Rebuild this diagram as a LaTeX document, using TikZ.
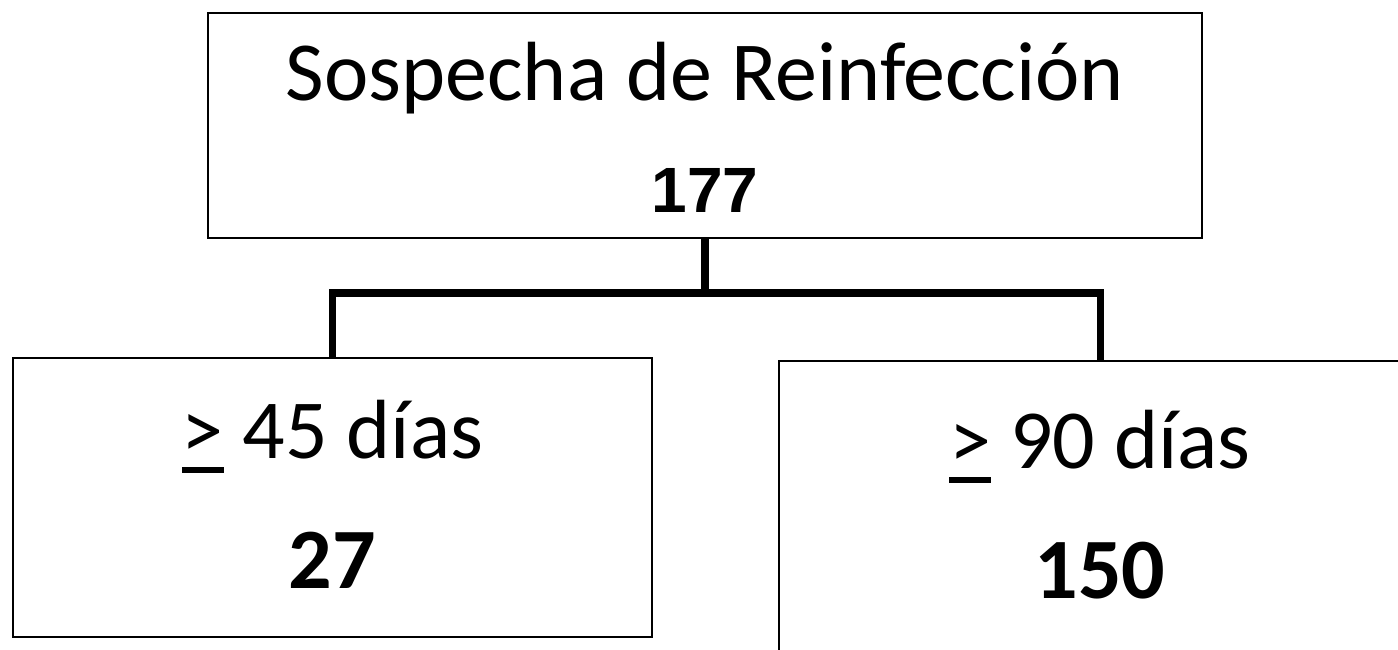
\documentclass[tikz,border=0pt]{standalone}
\usepackage{fontspec}
\setmainfont{Carlito}
\newfontfamily\arialf{Liberation Sans}
\newsavebox\gtbox
\newcommand\ugt{\sbox\gtbox{>}\rlap{\rule[-0.18em]{\wd\gtbox}{0.07em}}\usebox\gtbox}
\begin{document}
\begin{tikzpicture}[x=1pt,y=-1pt,
  box/.style={draw, line width=2.5pt, inner sep=0pt},
  conn/.style={line width=7.5pt},
  big/.style={font=\fontsize{84}{100}\selectfont, anchor=base, inner sep=0pt},
  bignum/.style={font=\fontsize{86}{100}\selectfont\bfseries, anchor=base, inner sep=0pt},
  topnum/.style={font=\arialf\bfseries\fontsize{64}{70}\selectfont, anchor=base, inner sep=0pt}]
\useasboundingbox (0,0) rectangle (1398,649);
\node[box, minimum width=994pt, minimum height=225pt] (top) at (705,125.5) {};
\node[box, minimum width=639pt, minimum height=279pt] (lbox) at (332.5,497.5) {};
\node[box, minimum width=643pt, minimum height=299pt] (rbox) at (1100.5,510.5) {};
\node[big] (t1) at (705,100) {Sospecha de Reinfección};
\node[topnum] (t2) at (705,212) {177};
\node[big] (l1) at (332.5,458) {\ugt\ 45 días};
\node[bignum] (l2) at (332.5,588) {27};
\node[big] (r1) at (1100,468) {\ugt\ 90 días};
\node[bignum] (r2) at (1100,598) {150};
\coordinate (j) at (705,293);
\draw[conn] (top.south) -- (j);
\draw[conn] (lbox.north) |- (j) -| (rbox.north);
\end{tikzpicture}
\end{document}
